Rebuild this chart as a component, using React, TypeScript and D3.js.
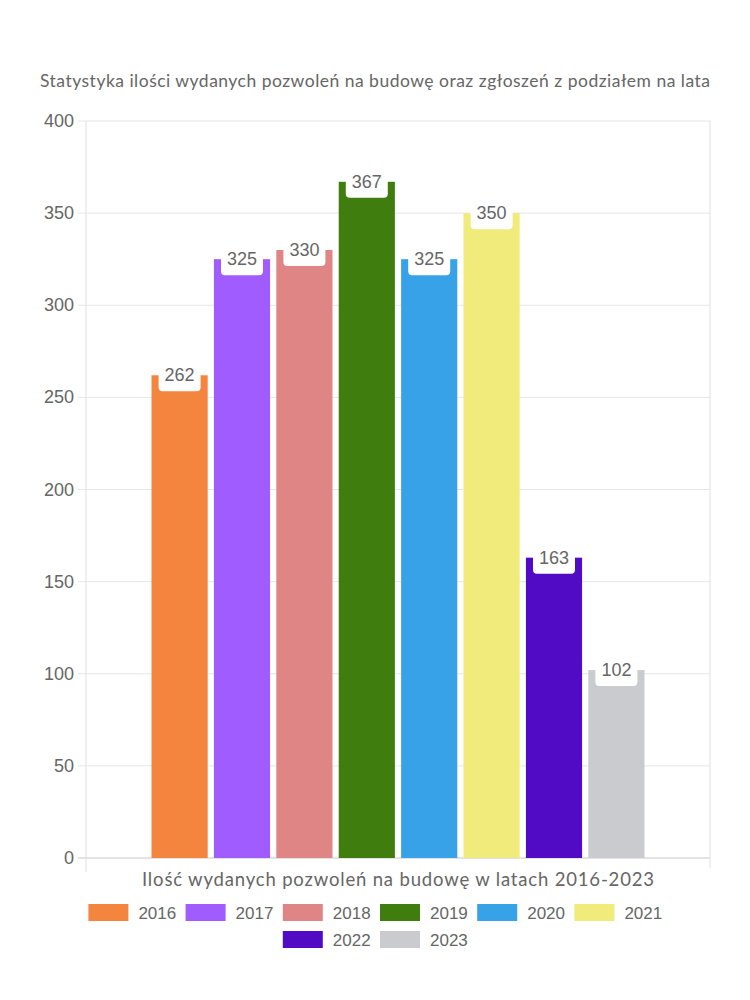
import React from "react";
import * as d3 from "d3";

const years = ["2016", "2017", "2018", "2019", "2020", "2021", "2022", "2023"];
const values = [262, 325, 330, 367, 325, 350, 163, 102];
const colors = ["#F4853F", "#A05CFF", "#E08585", "#3E7D0E", "#37A2E8", "#F0EB7B", "#520BC4", "#CACBCF"];
const yTicks = [0, 50, 100, 150, 200, 250, 300, 350, 400];
const title = "Statystyka ilości wydanych pozwoleń na budowę oraz zgłoszeń z podziałem na lata";
const xTitle = "Ilość wydanych pozwoleń na budowę w latach 2016-2023";

const W = 750, H = 1000;
const plotL = 86, plotR = 710, plotT = 121, plotB = 858;
const roundFont = "Lato, 'Open Sans', sans-serif";
const numFont = "'Liberation Sans', Arial, sans-serif";

export default function App() {
  const y = d3.scaleLinear().domain([0, 400]).range([plotB, plotT]);
  const pw = plotR - plotL;
  const x = d3.scaleBand<string>().domain(years)
    .range([plotL + 0.1 * pw, plotL + 0.9 * pw]).paddingInner(0.1).paddingOuter(0.05);

  // legend layout
  const boxW = 40, gap = 10, pad = 10, charW = 9.3;
  const itemW = (t: string) => boxW + gap + t.length * charW + pad;
  const rows: { t: string; c: string; i: number }[][] = [[], []];
  years.forEach((t, i) => rows[i < 6 ? 0 : 1].push({ t, c: colors[i], i }));
  const rowY = [904, 931];

  return (
    <svg width={W} height={H} style={{ position: "absolute", left: 0, top: 0, background: "#fff" }}>
      <text x={375} y={87} textAnchor="middle" fontFamily={roundFont} fontSize={17.5} fill="#666"
        textLength={670} lengthAdjust="spacing">{title}</text>
      {/* grid */}
      {yTicks.map((t) => (
        <g key={t}>
          <line x1={plotL - 8} x2={plotR} y1={y(t)} y2={y(t)} stroke={t === 0 ? "#c8c8c8" : "#e6e6e6"} strokeWidth={1} />
          <text x={74} y={y(t) + 6} textAnchor="end" fontFamily={numFont} fontSize={18} fill="#666">{t}</text>
        </g>
      ))}
      <line x1={plotL} x2={plotL} y1={plotT} y2={plotB + 14} stroke="#e0e0e0" />
      <line x1={plotR} x2={plotR} y1={plotT} y2={plotB + 10} stroke="#e0e0e0" />
      {/* bars */}
      {years.map((yr, i) => {
        const bx = x(yr)!;
        const bw = x.bandwidth();
        const top = y(values[i]);
        const cx = bx + bw / 2;
        const lw = 42, lt = top - 10, lb = top + 16, r = 4;
        const path = `M${cx - lw / 2},${lt} H${cx + lw / 2} V${lb - r} Q${cx + lw / 2},${lb} ${cx + lw / 2 - r},${lb} H${cx - lw / 2 + r} Q${cx - lw / 2},${lb} ${cx - lw / 2},${lb - r} Z`;
        return (
          <g key={yr}>
            <rect x={bx} y={top} width={bw} height={plotB - top} fill={colors[i]} />
            <path d={path} fill="#fff" />
            <text x={cx} y={top + 6} textAnchor="middle" fontFamily={numFont} fontSize={18} fill="#666">{values[i]}</text>
          </g>
        );
      })}
      <text x={(plotL + plotR) / 2} y={886} textAnchor="middle" fontFamily={roundFont} fontSize={18.5} fill="#666"
        textLength={512} lengthAdjust="spacing">{xTitle}</text>
      {/* legend */}
      {rows.map((row, ri) => {
        const total = row.reduce((s, it) => s + itemW(it.t), 0) - pad;
        let cur = 375 - total / 2;
        return row.map((it) => {
          const gx = cur;
          cur += itemW(it.t);
          return (
            <g key={it.t}>
              <rect x={gx} y={rowY[ri]} width={boxW} height={17} fill={it.c} />
              <text x={gx + boxW + gap} y={rowY[ri] + 15} fontFamily={numFont} fontSize={17} fill="#666">{it.t}</text>
            </g>
          );
        });
      })}
    </svg>
  );
}
